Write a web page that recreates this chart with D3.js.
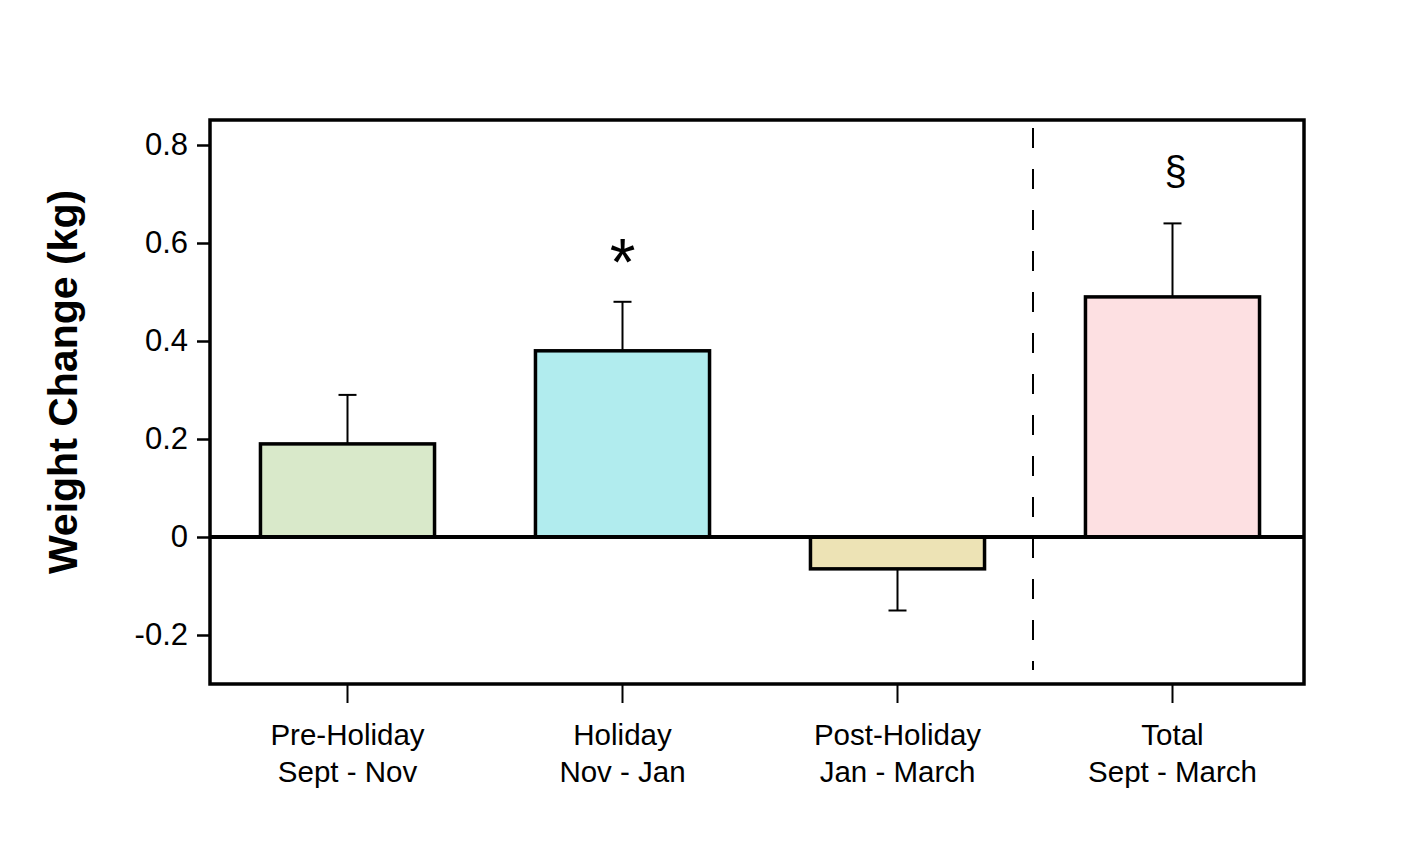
<!DOCTYPE html>
<html>
<head>
<meta charset="utf-8">
<script src="https://cdn.jsdelivr.net/npm/d3@7"></script>
<style>
  html, body { margin: 0; padding: 0; background: #fff; }
  svg { display: block; font-family: "Liberation Sans", Arial, Helvetica, sans-serif; }
</style>
</head>
<body>
<svg id="chart" width="1404" height="854"></svg>
<script>
// ---- data ----
const categories = ["Pre-Holiday", "Holiday", "Post-Holiday", "Total"];
const periods = ["Sept - Nov", "Nov - Jan", "Jan - March", "Sept - March"];
const means = [0.19, 0.38, -0.065, 0.49];
const errors = [0.10, 0.10, 0.085, 0.15];
const annotations = ["", "*", "", "§"];
const yTicks = [-0.2, 0, 0.2, 0.4, 0.6, 0.8];
const yTickLabels = ["-0.2", "0", "0.2", "0.4", "0.6", "0.8"];
const colors = ["#d9e9ca", "#b1ecee", "#ede3b5", "#fde0e2"];
const yTitle = "Weight Change (kg)";

// ---- layout ----
const frame = { left: 210, right: 1304, top: 120, bottom: 684 };
const svg = d3.select("#chart");

const x = d3.scaleBand()
  .domain(categories)
  .range([210, 1310])
  .paddingInner(0.367)
  .paddingOuter(0.1835);

const y = d3.scaleLinear()
  .domain([-0.3, 0.8])
  .range([frame.bottom, 145]);

// bars
const bars = svg.append("g");
categories.forEach((c, i) => {
  const v = means[i];
  bars.append("rect")
    .attr("x", x(c))
    .attr("width", x.bandwidth())
    .attr("y", y(Math.max(0, v)))
    .attr("height", Math.abs(y(v) - y(0)))
    .attr("fill", colors[i])
    .attr("stroke", "#000")
    .attr("stroke-width", 3.5);
});

// error bars (one direction, away from zero)
const capW = 18;
const eb = svg.append("g").attr("stroke", "#000").attr("stroke-width", 2);
categories.forEach((c, i) => {
  const v = means[i];
  const cx = x(c) + x.bandwidth() / 2;
  const end = v >= 0 ? v + errors[i] : v - errors[i];
  eb.append("line").attr("x1", cx).attr("x2", cx).attr("y1", y(v)).attr("y2", y(end));
  eb.append("line").attr("x1", cx - capW / 2).attr("x2", cx + capW / 2).attr("y1", y(end)).attr("y2", y(end));
});

// annotations
const annStyle = { "*": { size: 66, dy: -17, dx: 0 }, "§": { size: 40, dy: -38, dx: 3 } };
categories.forEach((c, i) => {
  const a = annotations[i];
  if (!a) return;
  const v = means[i];
  const cx = x(c) + x.bandwidth() / 2;
  const st = annStyle[a];
  svg.append("text")
    .attr("x", cx + st.dx)
    .attr("y", y(v + errors[i]) + st.dy)
    .attr("text-anchor", "middle")
    .attr("font-size", st.size)
    .attr("fill", "#000")
    .text(a);
});

// dashed separator between 3rd and 4th group
const sepX = (x(categories[2]) + x.bandwidth() + x(categories[3])) / 2 - 2;
svg.append("line")
  .attr("x1", sepX).attr("x2", sepX)
  .attr("y1", frame.top + 8).attr("y2", frame.bottom - 14)
  .attr("stroke", "#000").attr("stroke-width", 2)
  .attr("stroke-dasharray", "20,21");

// zero line
svg.append("line")
  .attr("x1", frame.left).attr("x2", frame.right)
  .attr("y1", y(0)).attr("y2", y(0))
  .attr("stroke", "#000").attr("stroke-width", 4);

// frame
svg.append("rect")
  .attr("x", frame.left).attr("y", frame.top)
  .attr("width", frame.right - frame.left).attr("height", frame.bottom - frame.top)
  .attr("fill", "none").attr("stroke", "#000").attr("stroke-width", 3.5);

// y axis
const yAxis = d3.axisLeft(y)
  .tickValues(yTicks)
  .tickFormat((d, i) => yTickLabels[i])
  .tickSize(13)
  .tickPadding(9);
const gy = svg.append("g").attr("transform", `translate(${frame.left},0)`).call(yAxis);
gy.select(".domain").remove();
gy.selectAll(".tick line").attr("stroke", "#000").attr("stroke-width", 2.5);
gy.selectAll(".tick text")
  .attr("font-size", 31)
  .attr("fill", "#000")
  .attr("font-family", "Liberation Sans, Arial, sans-serif");

// x axis
const xAxis = d3.axisBottom(x).tickSize(19).tickFormat("");
const gx = svg.append("g").attr("transform", `translate(0,${frame.bottom})`).call(xAxis);
gx.select(".domain").remove();
gx.selectAll(".tick line").attr("stroke", "#000").attr("stroke-width", 2);
gx.selectAll(".tick").each(function (d, i) {
  const t = d3.select(this).append("text")
    .attr("text-anchor", "middle")
    .attr("font-size", 29.5)
    .attr("fill", "#000")
    .attr("font-family", "Liberation Sans, Arial, sans-serif");
  t.append("tspan").attr("x", 0).attr("y", 61).text(categories[i]);
  t.append("tspan").attr("x", 0).attr("y", 98).text(periods[i]);
});

// y title
svg.append("text")
  .attr("transform", `translate(77,382) rotate(-90)`)
  .attr("text-anchor", "middle")
  .attr("font-size", 41)
  .attr("font-weight", "bold")
  .attr("fill", "#000")
  .text(yTitle);
</script>
</body>
</html>
